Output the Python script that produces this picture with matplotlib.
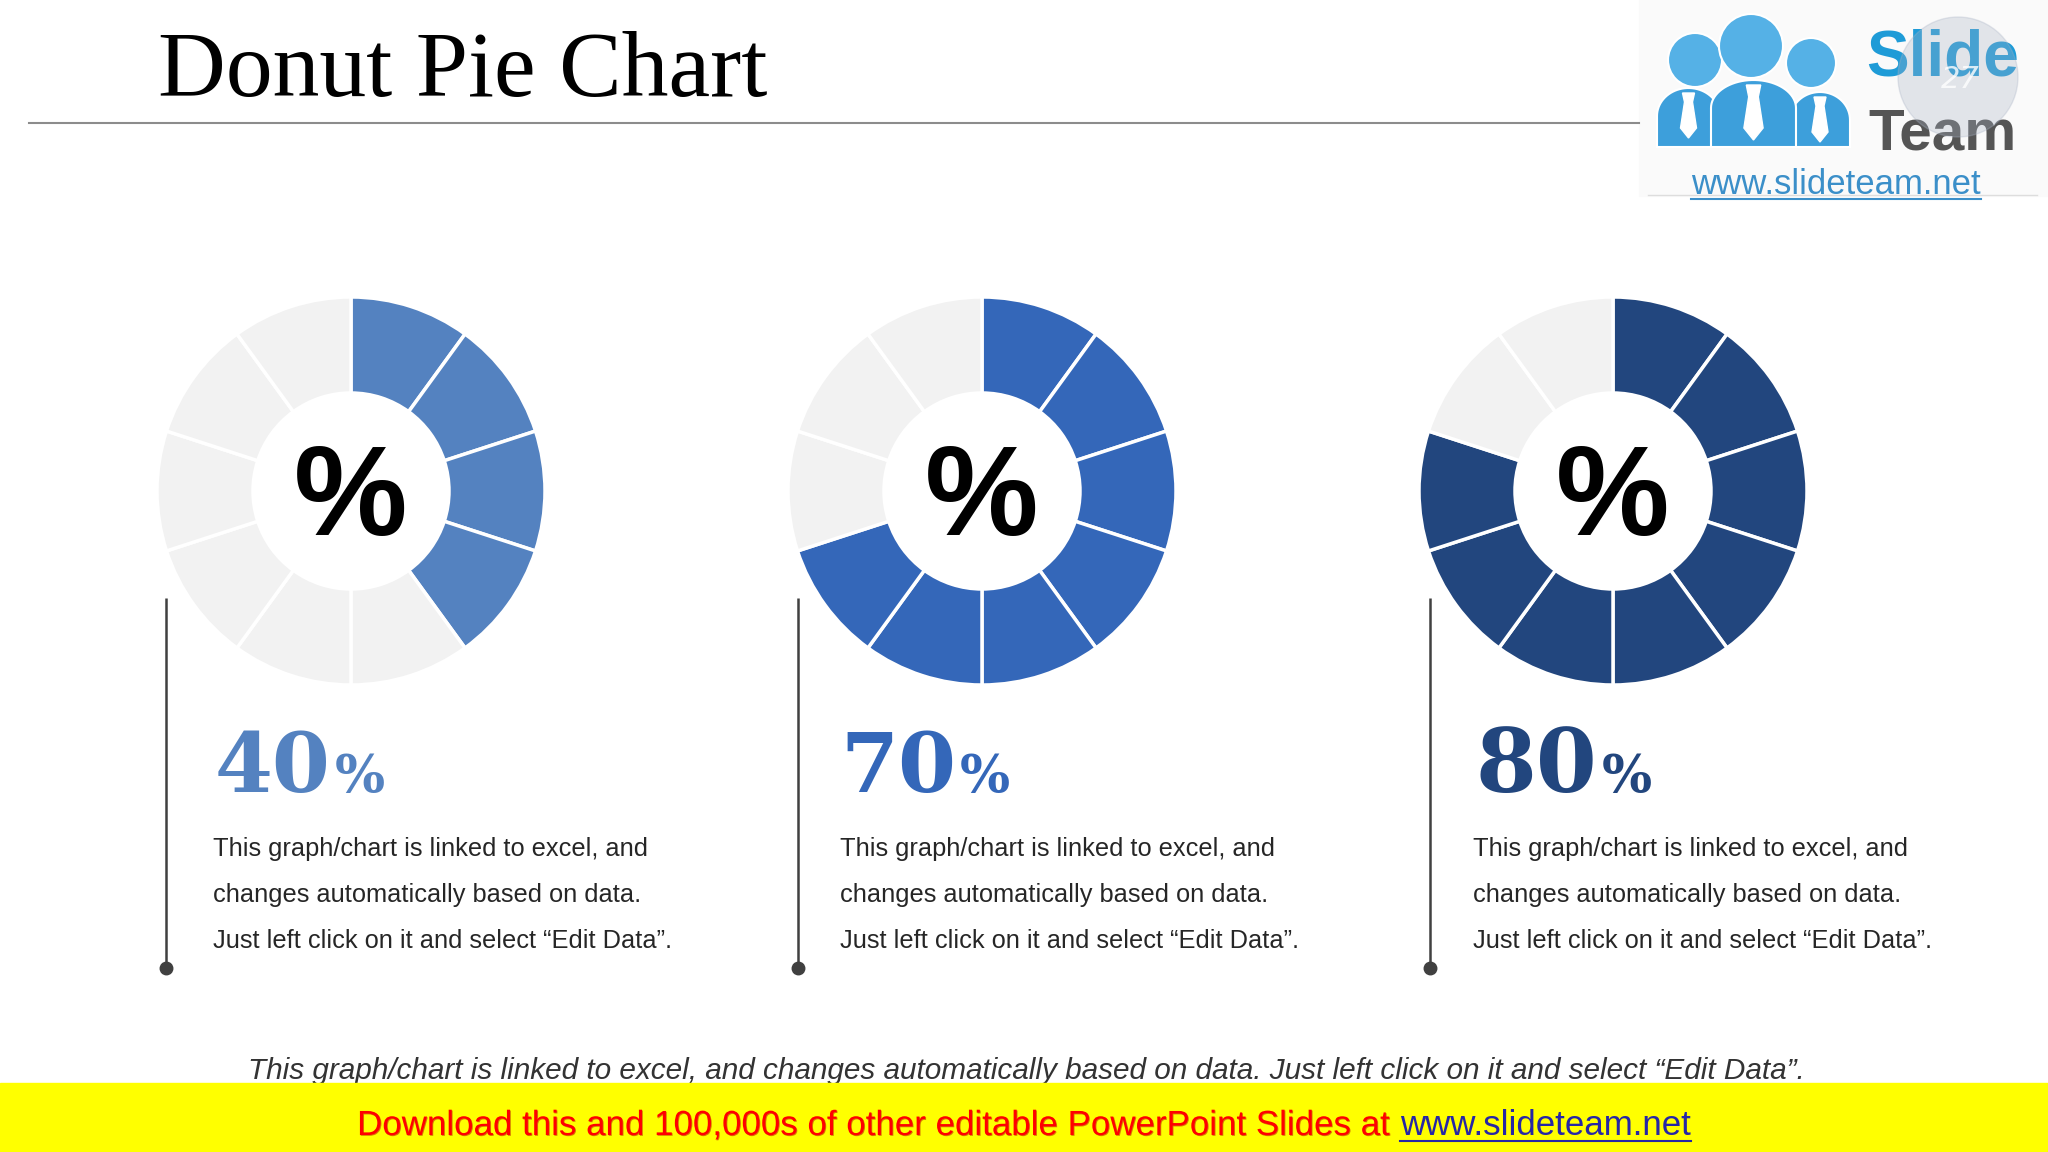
import matplotlib
matplotlib.use('Agg')
import matplotlib.pyplot as plt
import matplotlib.patches as mpatches
import matplotlib.patheffects as pe
import numpy as np

# Размер слайда в пикселях
W, H = 2048, 1152

# Данные
values = [40, 70, 80]
n_segments = 10
fill_colors = ['#5482C0', '#3467B9', '#22467E']
empty_color = '#F2F2F2'
desc_lines = ['This graph/chart is linked to excel, and',
              'changes automatically based on data.',
              'Just left click on it and select \u201cEdit Data\u201d.']
title = 'Donut Pie Chart'
footnote = ('This graph/chart is linked to excel, and changes automatically based on data. '
            'Just left click on it and select \u201cEdit Data\u201d.')
banner_red = 'Download this and 100,000s of other editable PowerPoint Slides at '
banner_link = 'www.slideteam.net'

# Расположение
centers_x = [351, 982, 1613]
center_y = 491
r_out, r_in = 194, 98
text_x = [213, 840, 1473]
label_x = [215, 840, 1476]
label_size = [60, 60, 63]
line_x = [166, 798, 1430]

fig = plt.figure(figsize=(20.48, 11.52), dpi=100)
fig.patch.set_facecolor('white')
ax = fig.add_axes([0, 0, 1, 1])
ax.set_xlim(0, W)
ax.set_ylim(H, 0)
ax.axis('off')
renderer = fig.canvas.get_renderer()

# Заголовок и линия
ax.text(158, 96, title, fontsize=67.5, family='Liberation Serif', color='black', va='baseline')
ax.plot([29, 1639], [123, 123], color='#8C8C8C', lw=1.5)

# Логотип
ax.add_patch(mpatches.Rectangle((1639, 0), W - 1639, 196, color='#FAFAFA', zorder=1))
ax.plot([1648, 2037], [195, 195], color='#DDDDDD', lw=1, zorder=1)
heads = [(1695, 60, 27), (1811, 63, 25), (1751, 46, 32)]
bodies = [(1657, 1720, 88), (1790, 1850, 92), (1711, 1796, 80)]
for (hx, hy, hr), (x0, x1, top) in zip(heads, bodies):
    xc, rx, ry = (x0 + x1) / 2, (x1 - x0) / 2, 28
    th = np.linspace(np.pi, 0, 40)
    pts = list(zip(xc + rx * np.cos(th), top + ry - ry * np.sin(th))) + [(x1, 147), (x0, 147)]
    ax.add_patch(mpatches.Polygon(pts, closed=True, facecolor='#3D9FDB', edgecolor='white', lw=1.5, zorder=2))
    s = 1.2 if top < 85 else 1.0
    tie = [(xc - 6 * s, top + 5), (xc + 6 * s, top + 5), (xc + 4 * s, top + 14 * s), (xc + 8 * s, top + 40 * s),
           (xc, top + 50 * s), (xc - 8 * s, top + 40 * s), (xc - 4 * s, top + 14 * s)]
    ax.add_patch(mpatches.Polygon(tie, closed=True, color='white', zorder=3))
    ax.add_patch(mpatches.Circle((hx, hy), hr, facecolor='#55B1E6', edgecolor='white', lw=1.5, zorder=2))
ax.text(1866, 75, 'Slide', fontsize=46, family='Liberation Sans', weight='bold', color='#1E9BD7',
        va='baseline', zorder=3)
ax.text(1868, 150, 'Team', fontsize=42, family='Liberation Sans', weight='bold', color='#555555',
        va='baseline', zorder=3)
url = ax.text(1691, 194, 'www.slideteam.net', fontsize=25, family='Liberation Sans', color='#3B8FC9',
              va='baseline', zorder=3)
ub = url.get_window_extent(renderer)
ax.plot([ub.x0, ub.x1], [199, 199], color='#3B8FC9', lw=1.5, zorder=3)
ax.add_patch(mpatches.Circle((1958, 77), 60, color='#A8B2C4', alpha=0.3, zorder=4))
ax.text(1960, 80, '27', fontsize=22, style='italic', color='white', alpha=0.8,
        ha='center', va='center', zorder=5)

# Кольцевые диаграммы
for v, cx, col in zip(values, centers_x, fill_colors):
    dax = fig.add_axes([(cx - r_out) / W, 1 - (center_y + r_out) / H, 2 * r_out / W, 2 * r_out / H])
    k = int(round(v / 100 * n_segments))
    cols = [col] * k + [empty_color] * (n_segments - k)
    dax.pie([1] * n_segments, colors=cols, startangle=90, counterclock=False, radius=1,
            wedgeprops=dict(width=(r_out - r_in) / r_out, edgecolor='white', linewidth=2.5))
    dax.set_xlim(-1, 1)
    dax.set_ylim(-1, 1)
    dax.set_aspect('equal')
    dax.axis('off')
    ax.text(cx, 535, '%', fontsize=92, family='Liberation Sans', weight='bold', color='black',
            ha='center', va='baseline')

# Подписи и текст
for v, col, lx, tx, vx, sz in zip(values, fill_colors, label_x, text_x, line_x, label_size):
    ax.plot([vx, vx], [598, 968], color='#404040', lw=1.8, solid_capstyle='butt')
    ax.plot(vx, 968, 'o', color='#404040', ms=9)
    t = ax.text(lx, 792, str(v), fontsize=sz, family='DejaVu Serif', weight='bold', color=col,
                va='baseline')
    bb = t.get_window_extent(renderer)
    ax.text(bb.x1 + 4, 792, '%', fontsize=38, family='DejaVu Serif', weight='bold', color=col,
            va='baseline')
    for i, line in enumerate(desc_lines):
        ax.text(tx, 856 + i * 46, line, fontsize=18.3, family='Liberation Sans', color='#262626',
                va='baseline')

# Сноска (подгоняем ширину)
fn = ax.text(1026, 1079, footnote, fontsize=20, family='Liberation Sans', style='italic',
             color='#333333', ha='center', va='baseline', zorder=2)
fw = fn.get_window_extent(renderer).width
fn.set_fontsize(20 * 1557 / fw)

# Жёлтая полоса
ax.add_patch(mpatches.Rectangle((0, 1083), W, H - 1083, color='#FFFF00', zorder=3))
tr = ax.text(0, 1135, banner_red, fontsize=24, family='Liberation Sans', color='#FF0000',
             va='baseline', zorder=4)
tl = ax.text(0, 1135, banner_link, fontsize=24, family='Liberation Sans', color='#2626A6',
             va='baseline', zorder=4)
w_total = tr.get_window_extent(renderer).width + tl.get_window_extent(renderer).width
fs = 24 * 1333 / w_total
tr.set_fontsize(fs)
tl.set_fontsize(fs)
tr.set_path_effects([pe.withSimplePatchShadow(offset=(0.6, -0.6), shadow_rgbFace='#B00000', alpha=0.5)])
wr = tr.get_window_extent(renderer).width
wl = tl.get_window_extent(renderer).width
x0 = 1024 - (wr + wl) / 2
tr.set_x(x0)
tl.set_x(x0 + wr)
ax.plot([x0 + wr, x0 + wr + wl], [1141, 1141], color='#2626A6', lw=1.5, zorder=4)

fig.savefig('out.png', dpi=100, facecolor='white')
